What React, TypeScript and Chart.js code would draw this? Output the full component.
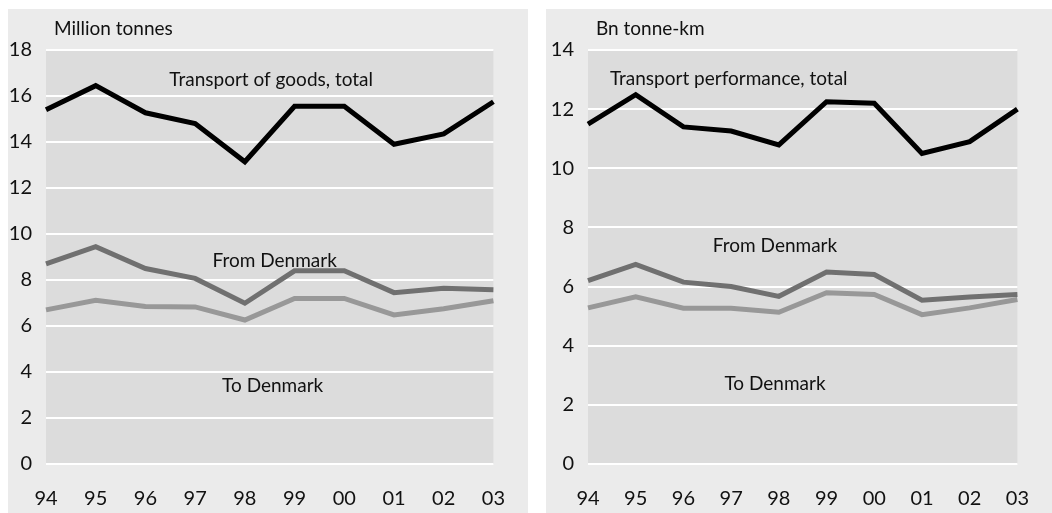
import React, { useEffect, useRef } from "react";
import { Chart, registerables } from "chart.js";
Chart.register(...registerables);

const years = ["94", "95", "96", "97", "98", "99", "00", "01", "02", "03"];

// Left panel: Million tonnes
const goodsTotal = [15.4, 16.45, 15.27, 14.8, 13.14, 15.55, 15.55, 13.9, 14.35, 15.75];
const goodsFrom = [8.7, 9.45, 8.5, 8.07, 6.99, 8.4, 8.4, 7.45, 7.64, 7.58];
const goodsTo = [6.7, 7.12, 6.85, 6.83, 6.26, 7.2, 7.2, 6.48, 6.75, 7.1];

// Right panel: Bn tonne-km
const perfTotal = [11.49, 12.49, 11.4, 11.26, 10.79, 12.25, 12.2, 10.5, 10.9, 12.0];
const perfFrom = [6.2, 6.75, 6.15, 6.0, 5.67, 6.49, 6.41, 5.54, 5.65, 5.73];
const perfTo = [5.28, 5.65, 5.27, 5.27, 5.13, 5.79, 5.73, 5.05, 5.28, 5.56];

const leftUnit = "Million tonnes";
const rightUnit = "Bn tonne-km";

const leftLabels = [
  { text: "Transport of goods, total", x: 4.53, y: 16.7 },
  { text: "From Denmark", x: 4.6, y: 8.83 },
  { text: "To Denmark", x: 4.56, y: 3.39 },
];
const rightLabels = [
  { text: "Transport performance, total", x: 2.95, y: 13.02 },
  { text: "From Denmark", x: 3.92, y: 7.39 },
  { text: "To Denmark", x: 3.92, y: 2.71 },
];

const FONT = "Lato, 'Open Sans', sans-serif";
const COLORS = { total: "#000000", from: "#707070", to: "#989898" };

type PanelProps = {
  total: number[];
  from: number[];
  to: number[];
  max: number;
  unit: string;
  labels: { text: string; x: number; y: number }[];
  yWidth: number;
  padRight: number;
};

function Panel(props: PanelProps) {
  const ref = useRef<HTMLCanvasElement | null>(null);
  useEffect(() => {
    if (!ref.current) return;
    const annot = {
      id: "annot",
      beforeDraw(chart: any) {
        const { ctx, chartArea } = chart;
        ctx.save();
        ctx.fillStyle = "#dcdcdc";
        ctx.fillRect(chartArea.left, chartArea.top, chartArea.right - chartArea.left, chartArea.bottom - chartArea.top);
        ctx.restore();
      },
      afterDraw(chart: any) {
        const { ctx, chartArea, scales } = chart;
        ctx.save();
        ctx.fillStyle = "#111";
        ctx.font = `19px ${FONT}`;
        ctx.textBaseline = "middle";
        ctx.textAlign = "left";
        ctx.fillText(props.unit, chartArea.left + 8, chartArea.top - 21);
        ctx.textAlign = "center";
        for (const l of props.labels) {
          ctx.fillText(l.text, scales.x.getPixelForValue(l.x), scales.y.getPixelForValue(l.y));
        }
        ctx.restore();
      },
    };
    const mk = (data: number[], color: string) => ({
      data,
      borderColor: color,
      backgroundColor: color,
      borderWidth: 5,
      pointRadius: 0,
      tension: 0,
      fill: false,
    });
    const chart = new Chart(ref.current, {
      type: "line",
      data: {
        labels: years,
        datasets: [mk(props.to, COLORS.to), mk(props.from, COLORS.from), mk(props.total, COLORS.total)],
      },
      options: {
        animation: false,
        responsive: true,
        maintainAspectRatio: false,
        layout: { padding: { top: 41, right: props.padRight, bottom: 0, left: 0 } },
        plugins: { legend: { display: false }, tooltip: { enabled: false }, title: { display: false } },
        scales: {
          x: {
            offset: false,
            grid: { display: false, drawTicks: false },
            border: { display: false },
            ticks: { color: "#111", font: { family: FONT, size: 20 }, padding: 23, maxRotation: 0, autoSkip: false },
            afterFit: (s: any) => { s.height = 49; },
          },
          y: {
            min: 0,
            max: props.max,
            grid: { color: "#ffffff", lineWidth: 2, drawTicks: false },
            border: { display: false },
            ticks: { stepSize: 2, color: "#111", font: { family: FONT, size: 20 }, padding: 14 },
            afterFit: (s: any) => { s.width = props.yWidth; },
          },
        },
      },
      plugins: [annot],
    });
    return () => chart.destroy();
  }, []);
  return <canvas ref={ref} />;
}

export default function App() {
  useEffect(() => {
    document.body.style.margin = "0";
  }, []);
  return (
    <div style={{ position: "relative", width: 1052, height: 513, overflow: "hidden", background: "#fff" }}>
      <div style={{ position: "absolute", left: 8, top: 9, width: 520, height: 504, background: "#ebebeb" }}>
        <Panel total={goodsTotal} from={goodsFrom} to={goodsTo} max={18} unit={leftUnit} labels={leftLabels} yWidth={38} padRight={28} />
      </div>
      <div style={{ position: "absolute", left: 546, top: 9, width: 506, height: 504, background: "#ebebeb" }}>
        <Panel total={perfTotal} from={perfFrom} to={perfTo} max={14} unit={rightUnit} labels={rightLabels} yWidth={42} padRight={11} />
      </div>
    </div>
  );
}
